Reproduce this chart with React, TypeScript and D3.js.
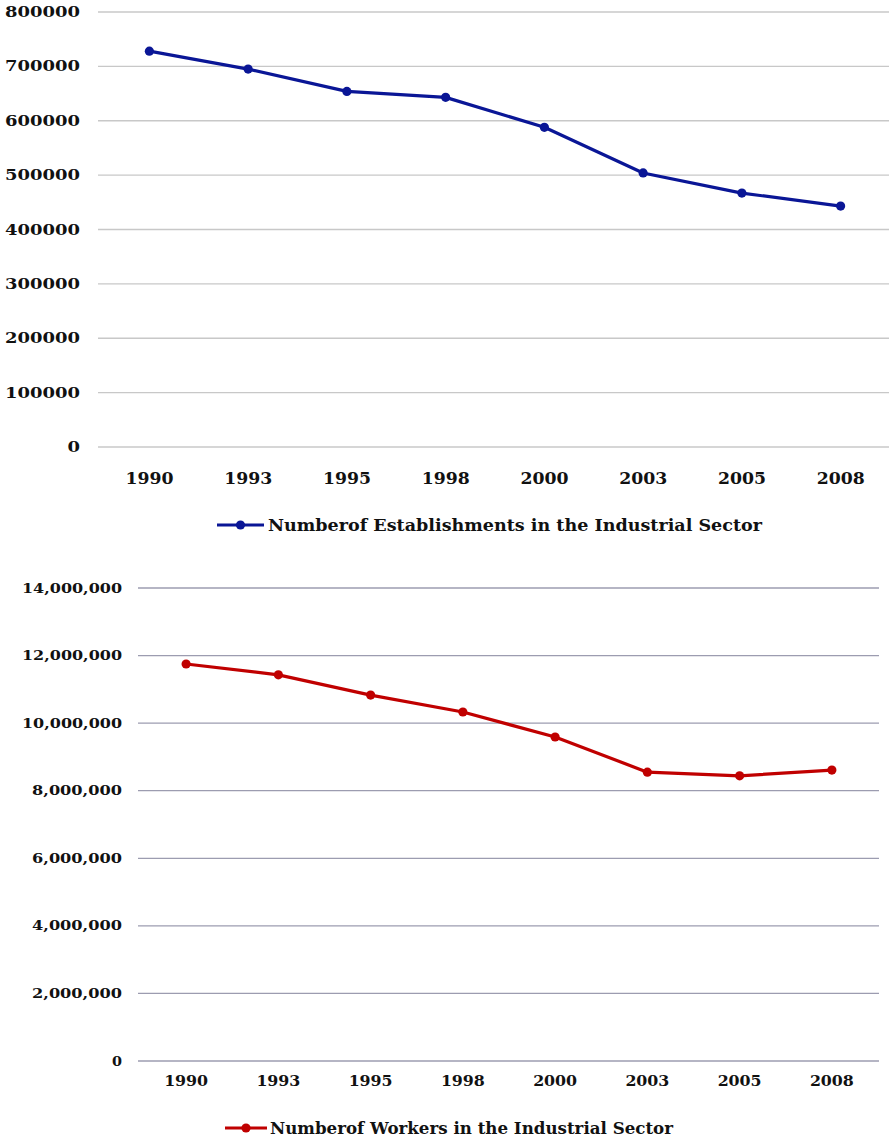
import React from "react";
import * as d3 from "d3";

const years = ["1990", "1993", "1995", "1998", "2000", "2003", "2005", "2008"];
const establishments = [728000, 695000, 654000, 643000, 588000, 504000, 467000, 443000];
const workers = [11750000, 11430000, 10830000, 10330000, 9590000, 8550000, 8440000, 8610000];
const topTicks = [0, 100000, 200000, 300000, 400000, 500000, 600000, 700000, 800000];
const bottomTicks = [0, 2000000, 4000000, 6000000, 8000000, 10000000, 12000000, 14000000];
const topLegend = "Numberof Establishments in the Industrial Sector";
const bottomLegend = "Numberof Workers in the Industrial Sector";

const FONT = "'DejaVu Serif', 'Liberation Serif', serif";

function Chart(props: {
  values: number[];
  ticks: number[];
  yMax: number;
  x0: number;
  x1: number;
  yTop: number;
  yBottom: number;
  gridEnd: number;
  gridColor: string;
  lineColor: string;
  tickFormat: (v: number) => string;
  yLabelRight: number;
  yLabelCharW: number;
  yLabelSize: number;
  xLabelY: number;
  xLabelCharW: number;
  xLabelSize: number;
  legend: string;
  legendY: number;
  legendLineX0: number;
  legendLineX1: number;
  legendTextX: number;
  legendTextW: number;
}) {
  const p = props;
  const x = d3.scaleBand<string>().domain(years).range([p.x0, p.x1]);
  const y = d3.scaleLinear().domain([0, p.yMax]).range([p.yBottom, p.yTop]);
  const cx = (yr: string) => (x(yr) as number) + x.bandwidth() / 2;
  const line = d3
    .line<number>()
    .x((_, i) => cx(years[i]))
    .y((v) => y(v));
  return (
    <g>
      {p.ticks.map((t) => {
        const lbl = p.tickFormat(t);
        return (
          <g key={t}>
            <line x1={p.x0 - 2} x2={p.gridEnd} y1={y(t)} y2={y(t)} stroke={p.gridColor} strokeWidth={1.3} />
            <text
              x={p.yLabelRight}
              y={y(t)}
              textAnchor="end"
              dominantBaseline="central"
              fontFamily={FONT}
              fontWeight="bold"
              fontSize={p.yLabelSize}
              textLength={lbl.length * p.yLabelCharW}
              lengthAdjust="spacingAndGlyphs"
              fill="#111"
            >
              {lbl}
            </text>
          </g>
        );
      })}
      {years.map((yr) => (
        <text
          key={yr}
          x={cx(yr)}
          y={p.xLabelY}
          textAnchor="middle"
          dominantBaseline="central"
          fontFamily={FONT}
          fontWeight="bold"
          fontSize={p.xLabelSize}
          textLength={yr.length * p.xLabelCharW}
          lengthAdjust="spacingAndGlyphs"
          fill="#111"
        >
          {yr}
        </text>
      ))}
      <path d={line(p.values) || ""} fill="none" stroke={p.lineColor} strokeWidth={3.2} strokeLinejoin="round" />
      {p.values.map((v, i) => (
        <circle key={i} cx={cx(years[i])} cy={y(v)} r={4.6} fill={p.lineColor} />
      ))}
      <line x1={p.legendLineX0} x2={p.legendLineX1} y1={p.legendY} y2={p.legendY} stroke={p.lineColor} strokeWidth={3.2} />
      <circle cx={(p.legendLineX0 + p.legendLineX1) / 2} cy={p.legendY} r={4.6} fill={p.lineColor} />
      <text
        x={p.legendTextX}
        y={p.legendY}
        dominantBaseline="central"
        fontFamily={FONT}
        fontWeight="bold"
        fontSize={16}
        textLength={p.legendTextW}
        lengthAdjust="spacingAndGlyphs"
        fill="#111"
      >
        {p.legend}
      </text>
    </g>
  );
}

export default function App() {
  const fmtComma = d3.format(",");
  return (
    <svg
      width={890}
      height={1139}
      style={{ position: "absolute", left: 0, top: 0, background: "#fff" }}
    >
      <rect width={890} height={1139} fill="#fff" />
      <Chart
        values={establishments}
        ticks={topTicks}
        yMax={800000}
        x0={100}
        x1={890}
        yTop={12}
        yBottom={447}
        gridEnd={889}
        gridColor="#c8c8c8"
        lineColor="#0a1696"
        tickFormat={(v) => String(v)}
        yLabelRight={80}
        yLabelCharW={12.5}
        yLabelSize={15}
        xLabelY={478}
        xLabelCharW={12}
        xLabelSize={16}
        legend={topLegend}
        legendY={525}
        legendLineX0={217}
        legendLineX1={264}
        legendTextX={268}
        legendTextW={494}
      />
      <Chart
        values={workers}
        ticks={bottomTicks}
        yMax={14000000}
        x0={140}
        x1={878}
        yTop={588}
        yBottom={1061}
        gridEnd={879}
        gridColor="#9c9cb0"
        lineColor="#c00000"
        tickFormat={(v) => fmtComma(v)}
        yLabelRight={122}
        yLabelCharW={10}
        yLabelSize={13}
        xLabelY={1081}
        xLabelCharW={11}
        xLabelSize={15}
        legend={bottomLegend}
        legendY={1128}
        legendLineX0={225}
        legendLineX1={267}
        legendTextX={270}
        legendTextW={403}
      />
    </svg>
  );
}
